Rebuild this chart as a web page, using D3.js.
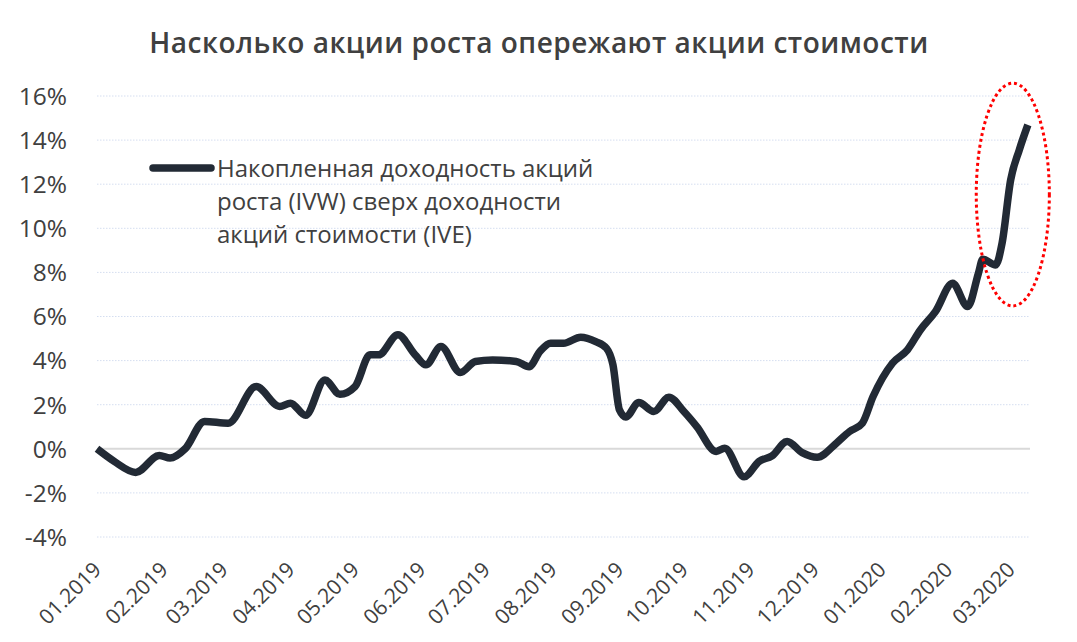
<!DOCTYPE html>
<html>
<head>
<meta charset="utf-8">
<script src="https://cdn.jsdelivr.net/npm/d3@7/dist/d3.min.js"></script>
<style>
  body { margin: 0; background: #fff; }
  svg { display: block; font-family: "Open Sans", sans-serif; }
</style>
</head>
<body>
<svg id="chart" width="1077" height="642"></svg>
<script>
const titleText = "Насколько акции роста опережают акции стоимости";
const legendLines = ["Накопленная доходность акций", "роста (IVW) сверх доходности", "акций стоимости (IVE)"];

const dates = [
  "2019-01-01","2019-01-09","2019-01-19","2019-01-30","2019-02-04","2019-02-11","2019-02-20","2019-03-03",
  "2019-03-16","2019-03-27","2019-04-01","2019-04-08","2019-04-17","2019-04-24","2019-05-01","2019-05-08",
  "2019-05-12","2019-05-21","2019-05-29","2019-06-03","2019-06-10","2019-06-19","2019-06-26","2019-07-04",
  "2019-07-15","2019-07-21","2019-07-26","2019-07-31","2019-08-06","2019-08-14","2019-08-21","2019-08-26",
  "2019-08-29","2019-09-01","2019-09-04","2019-09-10","2019-09-17","2019-09-24","2019-10-01","2019-10-07",
  "2019-10-16","2019-10-20","2019-10-29","2019-11-05","2019-11-11","2019-11-18","2019-11-25","2019-12-02",
  "2019-12-11","2019-12-17","2019-12-23","2019-12-28","2020-01-06","2020-01-13","2020-01-19","2020-01-26",
  "2020-02-03","2020-02-10","2020-02-15","2020-02-17","2020-02-23","2020-02-26","2020-03-01","2020-03-05",
  "2020-03-09"
];
const values = [
  0.00,-0.57,-1.07,-0.30,-0.42,0.00,1.24,1.16,
  2.82,1.92,2.07,1.52,3.12,2.47,2.82,4.26,
  4.26,5.17,4.26,3.81,4.64,3.46,3.96,4.03,
  3.96,3.72,4.41,4.79,4.79,5.06,4.86,4.56,
  3.81,1.77,1.44,2.10,1.69,2.34,1.69,1.01,
  -0.12,0.03,-1.27,-0.57,-0.32,0.33,-0.17,-0.38,
  0.26,0.78,1.16,2.37,3.88,4.49,5.39,6.22,
  7.51,6.45,7.96,8.60,8.34,9.32,12.19,13.55,
  14.69
];
const yTicks = [-4,-2,0,2,4,6,8,10,12,14,16];
const xTickLabels = ["01.2019","02.2019","03.2019","04.2019","05.2019","06.2019","07.2019","08.2019",
  "09.2019","10.2019","11.2019","12.2019","01.2020","02.2020","03.2020"];
const xDomain = ["2019-01-01","2020-03-10"];
// highlight ellipse: center date/value, half-width in days, half-height in %
const highlightCenter = ["2020-03-02", 11.53];
const highlightHalfDays = 17;
const highlightHalfValue = 5.05;

const parse = d3.timeParse("%Y-%m-%d");
const fmtTick = d3.timeParse("%m.%Y");
const data = dates.map((d,i) => ({date: parse(d), value: values[i]}));

const svg = d3.select("#chart");
const mLeft = 97, mRight = 1030, mTop = 96, mBottom = 537;

const x = d3.scaleTime().domain(xDomain.map(parse)).range([mLeft, mRight]);
const y = d3.scaleLinear().domain([-4,16]).range([mBottom, mTop]);

// Title
svg.append("text")
  .attr("x", 539).attr("y", 53)
  .attr("text-anchor", "middle")
  .attr("font-size", 28).attr("font-weight", 600)
  .attr("letter-spacing", 0.5)
  .attr("fill", "#404040")
  .text(titleText);

// Grid
const grid = svg.append("g");
grid.selectAll("line").data(yTicks.filter(t => t !== 0)).join("line")
  .attr("x1", mLeft).attr("x2", mRight)
  .attr("y1", d => y(d)).attr("y2", d => y(d))
  .attr("stroke", "#d5def0").attr("stroke-width", 1)
  .attr("stroke-dasharray", "1.5,1.5");
svg.append("line")
  .attr("x1", mLeft).attr("x2", mRight)
  .attr("y1", y(0)).attr("y2", y(0))
  .attr("stroke", "#d9d9d9").attr("stroke-width", 2);

// Y axis
const yAxis = d3.axisLeft(y).tickValues(yTicks).tickFormat(d => d + "%").tickSize(0).tickPadding(0);
const gy = svg.append("g").attr("transform", `translate(${67},0)`).call(yAxis);
gy.select(".domain").remove();
gy.selectAll("text").attr("font-size", 24.5).attr("fill", "#404040")
  .attr("font-family", "Open Sans, sans-serif").attr("dy", "0.34em");

// X axis
const xTicks = xTickLabels.map(s => fmtTick(s));
const xAxis = d3.axisBottom(x).tickValues(xTicks).tickFormat(d3.timeFormat("%m.%Y")).tickSize(0).tickPadding(0);
const gx = svg.append("g").attr("transform", `translate(0,${mBottom})`).call(xAxis);
gx.select(".domain").remove();
gx.selectAll("text")
  .attr("font-size", 21).attr("fill", "#404040")
  .attr("font-family", "Open Sans, sans-serif")
  .attr("text-anchor", "end")
  .attr("dy", null)
  .attr("transform", "translate(5,34) rotate(-45)");

// Line
const line = d3.line().x(d => x(d.date)).y(d => y(d.value)).curve(d3.curveMonotoneX);
svg.append("path").datum(data)
  .attr("d", line)
  .attr("fill", "none")
  .attr("stroke", "#222a35")
  .attr("stroke-width", 7.5)
  .attr("stroke-linejoin", "round");

// Highlight ellipse
const cx = x(parse(highlightCenter[0]));
const cy = y(highlightCenter[1]);
const rx = x(d3.timeDay.offset(parse(highlightCenter[0]), highlightHalfDays)) - cx;
const ry = y(highlightCenter[1] - highlightHalfValue) - cy;
svg.append("ellipse")
  .attr("cx", cx).attr("cy", cy).attr("rx", rx).attr("ry", ry)
  .attr("fill", "none").attr("stroke", "#ff0000")
  .attr("stroke-width", 3).attr("stroke-dasharray", "3,3");

// Legend
svg.append("line")
  .attr("x1", 153).attr("x2", 211).attr("y1", 168).attr("y2", 168)
  .attr("stroke", "#222a35").attr("stroke-width", 7.5).attr("stroke-linecap", "round");
svg.append("text")
  .attr("x", 217).attr("y", 177)
  .attr("font-size", 24).attr("fill", "#404040")
  .selectAll("tspan").data(legendLines).join("tspan")
  .attr("x", 217).attr("dy", (d,i) => i === 0 ? 0 : 33)
  .text(d => d);
</script>
</body>
</html>
